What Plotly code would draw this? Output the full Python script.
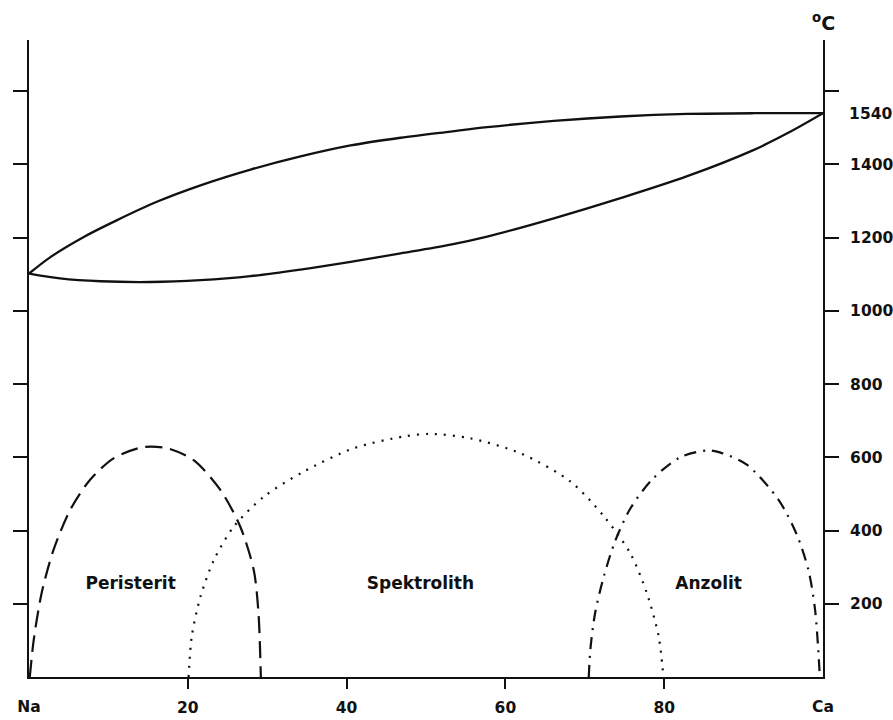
import plotly.graph_objects as go

# ---- data ----
comp_liq = [0, 2.7, 6.9, 11.1, 16.1, 21.6, 27.9, 34.2, 40.5, 46.8, 53.1, 57.7, 66.1, 74.5, 82.9, 91.3, 100]
temp_liq = [1102, 1147, 1202, 1248, 1298, 1343, 1386, 1422, 1452, 1473, 1490, 1502, 1519, 1531, 1538, 1540, 1540]

comp_sol = [0, 3.9, 9.0, 15.3, 21.6, 27.9, 34.2, 40.5, 46.8, 53.1, 57.7, 66.1, 74.5, 82.9, 91.3, 95.5, 100]
temp_sol = [1102, 1089, 1081, 1079, 1084, 1095, 1113, 1134, 1157, 1181, 1203, 1253, 1308, 1368, 1440, 1485, 1540]

comp_per = [0.1, 0.6, 1.6, 3.1, 5.2, 7.7, 10.7, 14.4, 17.4, 20.7, 24.1, 26.6, 28.3, 28.9, 29.2]
temp_per = [0, 102, 230, 348, 457, 539, 598, 628, 625, 593, 511, 411, 293, 175, 0]

comp_spe = [20.1, 20.5, 21.6, 23.3, 25.8, 29.6, 34.6, 40.9, 47.2, 50.5, 55.6, 61.9, 68.2, 72.4, 75.7, 77.8, 79.3, 79.9]
temp_spe = [0, 111, 220, 320, 411, 493, 561, 625, 657, 664, 652, 611, 534, 439, 339, 230, 111, 0]

comp_anz = [70.5, 70.7, 71.3, 72.4, 73.8, 75.7, 78.5, 82.0, 85.4, 87.1, 90.4, 94.4, 96.7, 98.2, 99.0, 99.4, 99.6]
temp_anz = [0, 75, 175, 275, 370, 459, 540, 600, 619, 613, 580, 484, 389, 289, 184, 75, 0]

region_names = ["Peristerit", "Spektrolith", "Anzolit"]
region_x = [12.8, 49.3, 85.6]
region_y = [252, 252, 252]

x_tickvals = [20, 40, 60, 80]
x_ticktext = ["20", "40", "60", "80"]
end_tickvals = [0, 100]
end_ticktext = ["Na", "Ca"]
y_tickvals = [200, 400, 600, 800, 1000, 1200, 1400, 1600]
y_ticktext = ["200", "400", "600", "800", "1000", "1200", "1400", " "]
top_tickvals = [1540]
top_ticktext = ["1540"]
unit_label = "<sup>o</sup>C"

# ---- figure ----
XR = [0, 100]
YR = [0, 1740]
FONT = "DejaVu Sans"
BLACK = "#111111"

fig = go.Figure()
fig.add_trace(go.Scatter(x=comp_liq, y=temp_liq, mode="lines", xaxis="x", yaxis="y",
                         line=dict(color=BLACK, width=2.3, shape="spline", smoothing=0.9)))
fig.add_trace(go.Scatter(x=comp_sol, y=temp_sol, mode="lines", xaxis="x", yaxis="y2",
                         line=dict(color=BLACK, width=2.3, shape="spline", smoothing=0.9)))
fig.add_trace(go.Scatter(x=comp_per, y=temp_per, mode="lines", xaxis="x", yaxis="y3",
                         line=dict(color=BLACK, width=2.2, shape="spline", smoothing=0.8, dash="17px,8px")))
fig.add_trace(go.Scatter(x=comp_spe, y=temp_spe, mode="lines", xaxis="x2", yaxis="y",
                         line=dict(color=BLACK, width=2.2, shape="spline", smoothing=0.8, dash="2px,7px")))
fig.add_trace(go.Scatter(x=comp_anz, y=temp_anz, mode="lines", xaxis="x", yaxis="y",
                         line=dict(color=BLACK, width=2.2, shape="spline", smoothing=0.8,
                                   dash="12px,7px,2px,7px")))
fig.add_trace(go.Scatter(x=region_x, y=region_y, mode="text", text=region_names, xaxis="x", yaxis="y",
                         textfont=dict(family=FONT, size=17, color=BLACK, weight="bold")))

tickfont = dict(family=FONT, size=15.5, color=BLACK, weight="bold")
common = dict(showgrid=False, zeroline=False, automargin=False)
fig.update_layout(
    template="none",
    width=893, height=720,
    margin=dict(l=29, r=70, t=40, b=42.5, pad=0),
    paper_bgcolor="white", plot_bgcolor="white",
    showlegend=False,
    xaxis=dict(range=XR, showline=True, linecolor=BLACK, linewidth=2,
               ticks="outside", ticklen=10, tickwidth=1.5, tickcolor=BLACK,
               tickvals=x_tickvals, ticktext=x_ticktext, tickfont=tickfont, ticklabelstandoff=5, **common),
    xaxis2=dict(range=XR, overlaying="x", side="bottom", showline=False,
                ticks="outside", ticklen=10, tickcolor="rgba(0,0,0,0)",
                tickvals=end_tickvals, ticktext=end_ticktext, tickfont=tickfont, ticklabelstandoff=5, **common),
    yaxis=dict(range=YR, side="left", showline=True, linecolor=BLACK,
               linewidth=2, ticks="outside", ticklen=14, tickwidth=1.5, tickcolor=BLACK,
               tickvals=y_tickvals, showticklabels=False, **common),
    yaxis2=dict(range=YR, overlaying="y", side="right", showline=True,
                linecolor=BLACK, linewidth=2, ticks="outside", ticklen=14, tickwidth=1.5, tickcolor=BLACK,
                tickvals=y_tickvals, ticktext=y_ticktext, tickfont=tickfont, ticklabelstandoff=8, **common),
    yaxis3=dict(range=YR, overlaying="y", side="right", showline=False,
                ticks="outside", ticklen=14, tickcolor="rgba(0,0,0,0)",
                tickvals=top_tickvals, ticktext=top_ticktext, tickfont=tickfont, ticklabelstandoff=8, **common),
    annotations=[dict(x=XR[1], xref="x", y=1.028, yref="paper", text=unit_label, showarrow=False,
                      xanchor="center", yanchor="middle",
                      font=dict(family=FONT, size=19, color=BLACK, weight="bold"))],
)

fig.write_html("out.html", config={"displayModeBar": False},
               post_script="document.body.style.margin='0';document.body.style.overflow='hidden';")
